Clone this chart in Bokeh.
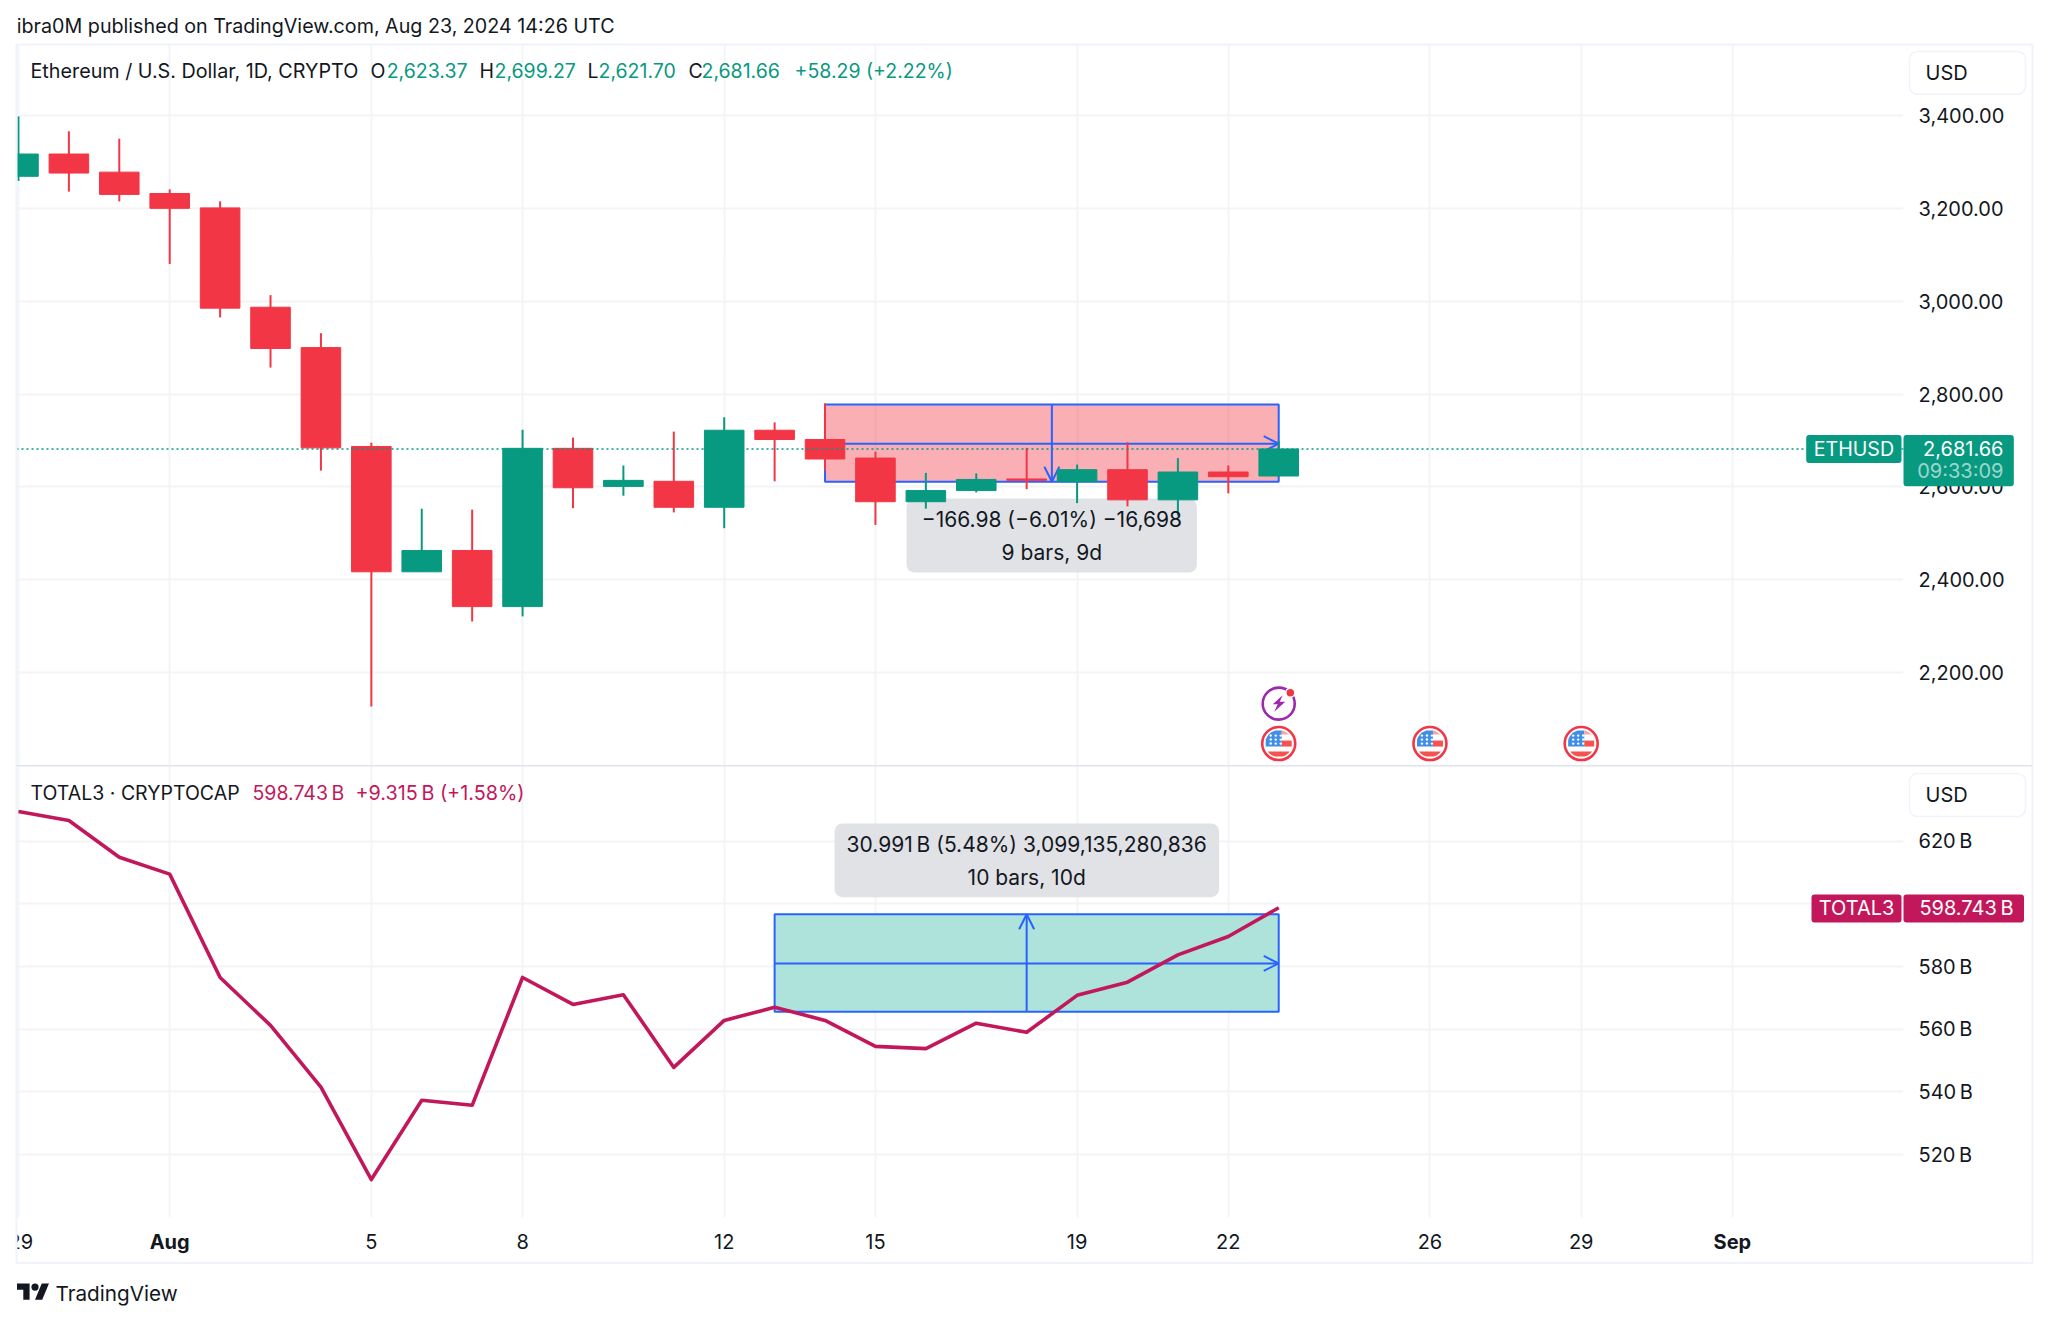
import numpy as np
from bokeh.plotting import figure
from bokeh.layouts import column
from bokeh.core.properties import value
from bokeh.models import (Range1d, FixedTicker, NumeralTickFormatter, PrintfTickFormatter, LinearAxis, Grid,
                          Label, BoxAnnotation, Span, Arrow, OpenHead, ColumnDataSource)
from bokeh.embed import file_html
from bokeh.resources import INLINE

# ---- data ----
days = [-2,-1,0,1,2,3,4,5,6,7,8,9,10,11,12,13,14,15,16,17,18,19,20,21,22,23]
opens = [3269,3317,3278,3232,3201,2987,2900,2687,2417,2463,2342,2683,2601,2612,2556,2722,2702,2662,2568,2592,2617,2611,2637,2572,2632,2623.37]
closes = [3317,3276,3230,3200,2985,2898,2684,2417,2463,2342,2683,2598,2614,2556,2722,2702,2660,2568,2592,2616,2614,2637,2572,2632,2622,2681.66]
highs = [3398,3366,3350,3241,3215,3013,2931,2695,2553,2551,2723,2706,2646,2719,2750,2739,2780,2676,2630,2629,2684,2648,2696,2662,2646,2699.27]
lows = [3259,3236,3215,3080,2965,2857,2635,2127,2417,2310,2321,2554,2581,2545,2511,2612,2635,2518,2553,2588,2595,2565,2558,2538,2586,2621.70]
total3 = [629.5,626.6,614.9,609.5,576.5,561.2,541.5,512.0,537.3,535.7,576.5,567.9,571.0,547.8,562.8,567.0,562.8,554.5,553.8,561.9,559.0,570.8,575.0,583.7,589.6,598.743]
time_ticks = [-2,1,5,8,12,15,19,22,26,29,32]
time_labels = ["29","","5","8","12","15","19","22","26","29",""]
bold_ticks = [1,32]
bold_labels = ["Aug","Sep"]
price_ticks = [2200,2400,2600,2800,3000,3200,3400]
cap_ticks = [520,540,560,580,600,620]
last_price = 2681.66
last_cap = 598.743
short_box = dict(left=14, right=23, top=2777.6, bottom=2611, mid_x=18.5, mid_y=2693)
long_box = dict(left=13, right=23, top=596.7, bottom=565.6, mid_x=18, mid_y=581)
event_days = [23,26,29]
event_price = 2047
flash_price = 2133

UP, DOWN, BLUE, INK, MAG = "#089981", "#f23645", "#2962ff", "#131722", "#c2185b"
GRID, EDGE = "#f3f4f6", "#f0f3fa"
FONT = "Inter"
W = 2032
PXD, PXV, KV = 50.41, 0.4642, 3.133
x_rng = lambda: Range1d(1 + (16 - 169.2) / PXD, 1 + (1903 - 169.2) / PXD)
day_px = lambda d: 169.2 + (d - 1) * PXD
price_px = lambda v: 115 + (3400 - v) * PXV
cap_px = lambda v: 840.7 + (620 - v) * KV
vt = lambda py: 3400 - (py - 115) / PXV
vb = lambda py: 620 - (py - 840.7) / KV


def lab(p, s, x, y, size=21):
    p.add_layout(Label(x=x, y=y, text=s, text_color=INK, text_font=FONT, text_font_size=f"{size}px",
                       text_align="center", text_baseline="middle", level="annotation"))


def base(height, y_range, ticks, fmt, **kw):
    p = figure(width=W, height=height, x_range=x_rng(), y_range=y_range, toolbar_location=None,
               output_backend="svg", min_border_left=8, min_border_right=W + 8 - 1903,
               outline_line_color=None, background_fill_color="white", x_axis_location=None, y_axis_location=None, **kw)
    p.xgrid.visible = False
    p.ygrid.visible = False
    ax = LinearAxis(ticker=FixedTicker(ticks=ticks), formatter=fmt, axis_line_color=None, major_tick_line_color=None,
                    minor_tick_line_color=None, major_label_text_font=FONT, major_label_text_font_size="20px",
                    major_label_text_color=INK, major_label_standoff=9)
    p.add_layout(ax, "right")
    for dim, t in ((0, time_ticks), (1, ticks)):
        p.add_layout(Grid(dimension=dim, ticker=FixedTicker(ticks=t), grid_line_color=GRID, grid_line_width=2, level="image"), "center")
    return p


def arrow(p, x0, x1, y0, y1):
    p.add_layout(Arrow(end=OpenHead(size=15, line_color=BLUE, line_width=2), x_start=x0, x_end=x1, y_start=y0, y_end=y1,
                       line_color=BLUE, line_width=2, level="glyph"))


# ---- price pane ----
top = base(758, Range1d(vt(766), vt(44)), price_ticks, NumeralTickFormatter(format="0,0.00"),
           min_border_top=36, min_border_bottom=0)
s = short_box
top.quad(left=[s["left"]], right=[s["right"]], top=[s["top"]], bottom=[s["bottom"]], fill_color=DOWN, fill_alpha=0.4,
         line_color=BLUE, line_width=2, level="underlay")
top.add_layout(BoxAnnotation(left=(906 - 169.2) / PXD + 1, right=(1196.4 - 169.2) / PXD + 1, top=vt(498), bottom=vt(572),
                             fill_color="#dcdee2", fill_alpha=0.88, line_color=None, border_radius=8, level="underlay"))
arrow(top, s["left"], s["right"], s["mid_y"], s["mid_y"])
arrow(top, s["mid_x"], s["mid_x"], s["top"], s["bottom"])

src = ColumnDataSource(dict(x=days, o=opens, c=closes, h=highs, l=lows,
                            col=[UP if c >= o else DOWN for o, c in zip(opens, closes)]))
top.segment("x", "h", "x", "l", source=src, line_color="col", line_width=2, level="annotation")
top.vbar(x="x", top="o", bottom="c", width=0.785, source=src, fill_color="col", line_color="col", line_width=1, level="annotation")
top.add_layout(Span(location=last_price, dimension="width", line_color=UP, line_width=1.6, line_dash="2 3", level="annotation"))
lab(top, "−166.98 (−6.01%) −16,698", s["mid_x"], vt(519))
lab(top, "9 bars, 9d", s["mid_x"], vt(552))

# event icons
rx = lambda px: px / PXD
ry = lambda px: -px / PXV
def flag_poly(cx, cy, x0, x1, y0, y1, r=13.5):
    ys = np.linspace(y0, y1, 10)
    hw = np.sqrt(np.maximum(r * r - ys * ys, 0))
    xl, xr = np.maximum(x0, -hw), np.minimum(x1, hw)
    return list(cx + rx(np.concatenate([xl, xr[::-1]]))), list(cy + ry(np.concatenate([ys, ys[::-1]])))
top.scatter(event_days, [event_price] * 3, marker="circle", size=33, fill_color="white", line_color=DOWN, line_width=2.6, level="annotation")
for d in event_days:
    for (a, b, c, e, col) in ((-13, 3, -13, 3, "#3f8fe8"), (3, 13, -3, 3, "#f4534f"), (-13, 13, 8, 13, "#f4534f"),
                              (3, 13, -13, -9, "#f4a6a4")):
        xs, ys = flag_poly(d, event_price, a, b, c, e)
        top.patch(xs, ys, fill_color=col, line_color=None, level="annotation")
    sx = [d + rx(a) for a in (-8, -3, 2) for _ in (0, 1, 2)]
    sy = [event_price + ry(b) for _ in (0, 1, 2) for b in (-8, -4, 0)]
    top.scatter(sx, sy, marker="circle", size=2.4, fill_color="white", line_color=None, level="annotation")
top.scatter([23], [flash_price], marker="circle", size=32, fill_color="white", line_color="#9c27b0", line_width=2.6, level="annotation")
bolt = [(4, -8.5), (-6, 0.5), (-1, 0.5), (-4.5, 8), (6.5, -2), (1, -2)]
top.patch([23 + rx(a) for a, b in bolt], [flash_price + ry(b) for a, b in bolt], fill_color="#9c27b0", line_color=None, level="annotation")
top.scatter([23 + rx(11.6)], [flash_price + ry(-11)], marker="circle", size=9, fill_color=DOWN, line_color="white", line_width=1.5, level="annotation")

# ---- TOTAL3 pane ----
bot = base(547, Range1d(vb(1217), vb(766)), cap_ticks, PrintfTickFormatter(format="%d\u202fB"),
           min_border_top=0, min_border_bottom=96)
bot.add_layout(LinearAxis(ticker=FixedTicker(ticks=time_ticks), major_label_overrides=dict(zip(time_ticks, time_labels)),
                          axis_line_color=None, major_tick_line_color=None, minor_tick_line_color=None,
                          major_label_text_font=FONT, major_label_text_font_size="20px", major_label_text_color=INK,
                          major_label_standoff=10), "below")
l = long_box
bot.quad(left=[l["left"]], right=[l["right"]], top=[l["top"]], bottom=[l["bottom"]], fill_color="#aae2da", fill_alpha=0.95,
         line_color=BLUE, line_width=2, level="underlay")
bot.add_layout(BoxAnnotation(left=(834 - 169.2) / PXD + 1, right=(1218.6 - 169.2) / PXD + 1, top=vb(823), bottom=vb(896.7),
                             fill_color="#dcdee2", fill_alpha=0.88, line_color=None, border_radius=8, level="underlay"))
arrow(bot, l["left"], l["right"], l["mid_y"], l["mid_y"])
arrow(bot, l["mid_x"], l["mid_x"], l["bottom"], l["top"])
bot.line(days, total3, line_color=MAG, line_width=3.6, line_join="round", level="annotation")
lab(bot, "30.991\u202fB (5.48%) 3,099,135,280,836", l["mid_x"], vb(844))
lab(bot, "10 bars, 10d", l["mid_x"], vb(877))

# ---- page-wide transparent layer for the chrome that lies outside the plot frames (page pixels) ----
ov = figure(width=2040, height=1313, x_range=Range1d(0, 2040), y_range=Range1d(1313, 0), toolbar_location=None,
            output_backend="svg", min_border=0, outline_line_color=None, background_fill_alpha=0, border_fill_alpha=0,
            x_axis_location=None, y_axis_location=None, styles={"position": "absolute", "top": "0px", "left": "0px"})
ov.xgrid.visible = False
ov.ygrid.visible = False


def t(s_, x, y, color=INK, size=19.5, align="left", style="normal", alpha=1.0):
    ov.text(x=[x], y=[y], text=[s_], text_color=color, text_alpha=alpha, text_font=value(FONT),
            text_font_size=value(f"{size}px"), text_font_style=style, text_align=align, text_baseline="middle")


def b(left, right, tp, bt, fill=None, line=None, lw=1, radius=0):
    ov.quad(left=[left], right=[right], top=[tp], bottom=[bt], fill_color=fill, fill_alpha=1 if fill else 0,
            line_color=line, line_alpha=1 if line else 0, line_width=lw, border_radius=radius)


b(0, 16, 1221, 1260, fill="white")
b(16, 2032, 44, 1262.5, line=EDGE, lw=2)
b(16, 2032, 764.4, 766, fill="#e0e3eb")
t("ibra0M published on TradingView.com, Aug 23, 2024 14:26 UTC", 16.3, 25.7, size=19.7)
t("Ethereum / U.S. Dollar, 1D, CRYPTO", 30, 70, size=19.75)
for s_, x, col in (("O", 370, INK), ("2,623.37", 386.2, UP), ("H", 479, INK), ("2,699.27", 494, UP), ("L", 587, INK),
                   ("2,621.70", 598, UP), ("C", 688, INK), ("2,681.66", 701, UP), ("+58.29 (+2.22%)", 794, UP)):
    t(s_, x, 70, color=col)
b(1909, 2025, 51, 93.7, fill="white", line=EDGE, lw=1.5, radius=8)
t("USD", 1925, 72, size=20)
py = price_px(last_price)
b(1805.7, 1901, py - 14, py + 14, fill=UP, radius=3)
b(1903, 2013.3, py - 14, py + 37.3, fill=UP, radius=3)
t("ETHUSD", 1853.4, py, color="white", align="center", size=19.6)
t("2,681.66", 2003, py, color="white", align="right", size=20)
t("09:33:09", 2003, py + 22.5, color="white", align="right", alpha=0.62, size=20)

t("TOTAL3 · CRYPTOCAP", 30, 792.5)
t("598.743\u202fB", 252, 792.5, color=MAG)
t("+9.315\u202fB (+1.58%)", 355, 792.5, color=MAG, size=19.8)
b(1909, 2025, 773, 816, fill="white", line=EDGE, lw=1.5, radius=8)
t("USD", 1925, 794, size=20)
pc = cap_px(last_cap) + 0.6
b(1811, 1901, pc - 14, pc + 14, fill=MAG, radius=3)
b(1903, 2023.5, pc - 14, pc + 14, fill=MAG, radius=3)
t("TOTAL3", 1856, pc, color="white", align="center", size=20)
t("598.743\u202fB", 2013, pc, color="white", align="right", size=20)

for d, s_ in zip(bold_ticks, bold_labels):
    t(s_, day_px(d), 1241, style="bold", align="center", size=20)

# logo + wordmark
ox, oy, k = 16.5, 1283 - 4 * 0.9, 0.9
for pts in ([(14, 22), (7, 22), (7, 11), (0, 11), (0, 4), (14, 4)], [(28, 22), (20, 22), (27.5, 4), (35.5, 4)]):
    ov.patch([ox + a * k for a, c in pts], [oy + c * k for a, c in pts], fill_color=INK, line_color=None)
ov.scatter([ox + 20 * k], [oy + 8 * k], marker="circle", size=8 * k, fill_color=INK, line_color=None)
t("TradingView", 55, 1292.5, size=20.7)

open("out.html", "w").write(file_html([column(top, bot, spacing=0, margin=(8, 0, 0, 8)), ov], INLINE))
